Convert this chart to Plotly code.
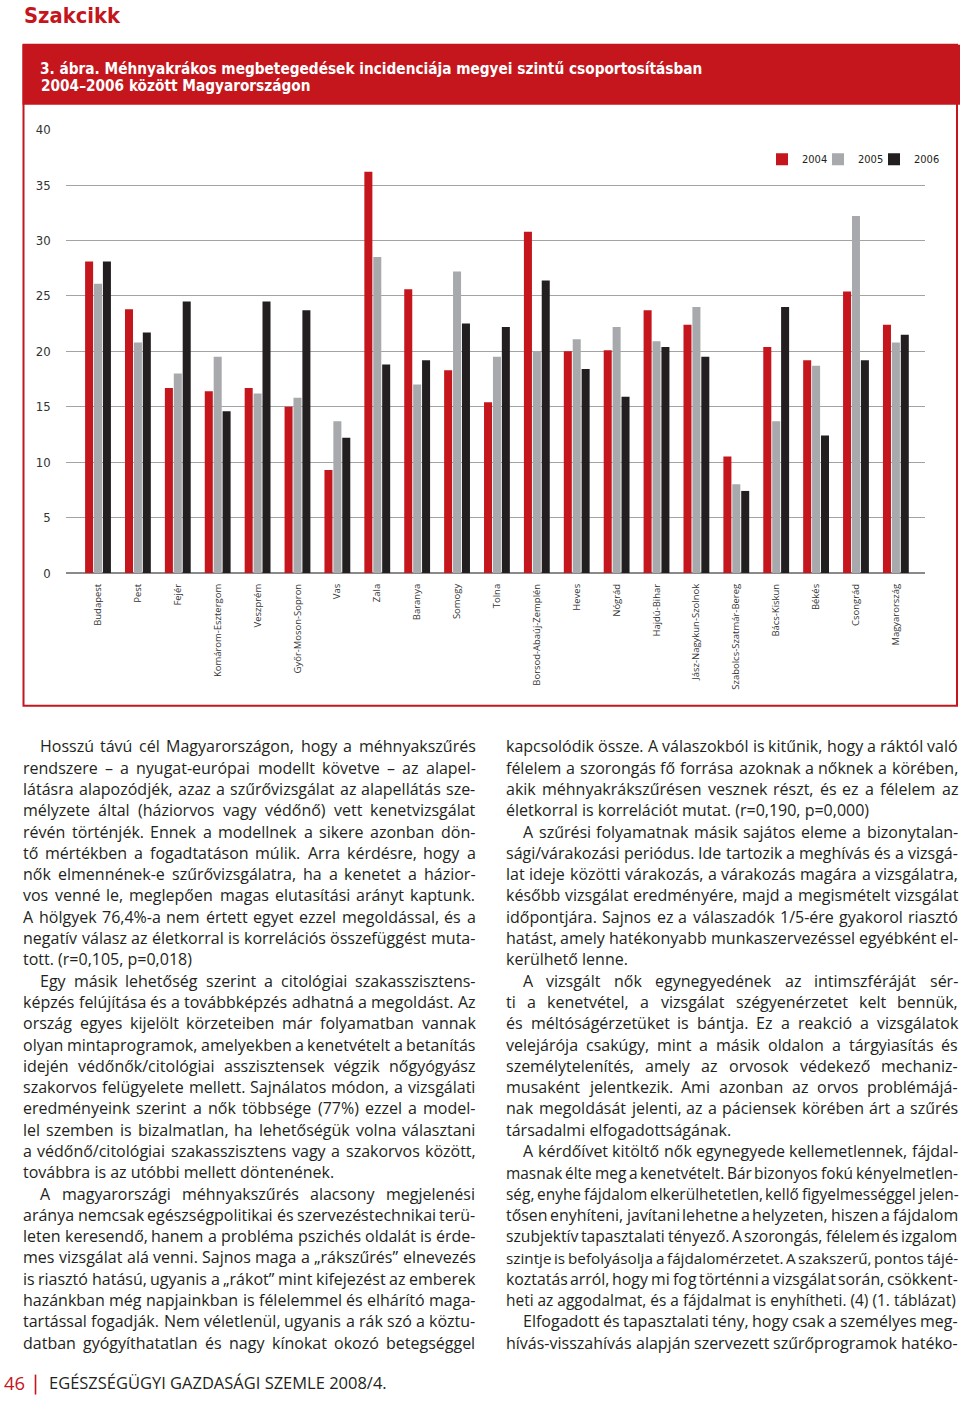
import os
import struct
import plotly.graph_objects as go

W, H = 960, 1405

# ---------------- data ----------------
categories = ["Budapest", "Pest", "Fejér", "Komárom-Esztergom", "Veszprém",
              "Győr-Moson-Sopron", "Vas", "Zala", "Baranya", "Somogy", "Tolna",
              "Borsod-Abaúj-Zemplén", "Heves", "Nógrád", "Hajdú-Bihar",
              "Jász-Nagykun-Szolnok", "Szabolcs-Szatmár-Bereg", "Bács-Kiskun",
              "Békés", "Csongrád", "Magyarország"]
v2004 = [28.1, 23.8, 16.7, 16.4, 16.7, 15.0, 9.3, 36.2, 25.6, 18.3, 15.4,
         30.8, 20.0, 20.1, 23.7, 22.4, 10.5, 20.4, 19.2, 25.4, 22.4]
v2005 = [26.1, 20.8, 18.0, 19.5, 16.2, 15.8, 13.7, 28.5, 17.0, 27.2, 19.5,
         20.0, 21.1, 22.2, 20.9, 24.0, 8.0, 13.7, 18.7, 32.2, 20.8]
v2006 = [28.1, 21.7, 24.5, 14.6, 24.5, 23.7, 12.2, 18.8, 19.2, 22.5, 22.2,
         26.4, 18.4, 15.9, 20.4, 19.5, 7.4, 24.0, 12.4, 19.2, 21.5]
years = ["2004", "2005", "2006"]
y_ticks = [0, 5, 10, 15, 20, 25, 30, 35, 40]

page_head = "Szakcikk"
fig_title = ["3. ábra. Méhnyakrákos megbetegedések incidenciája megyei szintű csoportosításban",
             "2004–2006 között Magyarországon"]

left_lines = [
    "Hosszú távú cél Magyarországon, hogy a méhnyakszűrés",
    "rendszere – a nyugat-európai modellt követve – az alapel-",
    "látásra alapozódjék, azaz a szűrővizsgálat az alapellátás sze-",
    "mélyzete által (háziorvos vagy védőnő) vett kenetvizsgálat",
    "révén történjék. Ennek a modellnek a sikere azonban dön-",
    "tő mértékben a fogadtatáson múlik. Arra kérdésre, hogy a",
    "nők elmennének-e szűrővizsgálatra, ha a kenetet a házior-",
    "vos venné le, meglepően magas elutasítási arányt kaptunk.",
    "A hölgyek 76,4%-a nem értett egyet ezzel megoldással, és a",
    "negatív válasz az életkorral is korrelációs összefüggést muta-",
    "tott. (r=0,105, p=0,018)",
    "Egy másik lehetőség szerint a citológiai szakasszisztens-",
    "képzés felújítása és a továbbképzés adhatná a megoldást. Az",
    "ország egyes kijelölt körzeteiben már folyamatban vannak",
    "olyan mintaprogramok, amelyekben a kenetvételt a betanítás",
    "idején védőnők/citológiai asszisztensek végzik nőgyógyász",
    "szakorvos felügyelete mellett. Sajnálatos módon, a vizsgálati",
    "eredményeink szerint a nők többsége (77%) ezzel a model-",
    "lel szemben is bizalmatlan, ha lehetőségük volna választani",
    "a védőnő/citológiai szakasszisztens vagy a szakorvos között,",
    "továbbra is az utóbbi mellett döntenének.",
    "A magyarországi méhnyakszűrés alacsony megjelenési",
    "aránya nemcsak egészségpolitikai és szervezéstechnikai terü-",
    "leten keresendő, hanem a probléma pszichés oldalát is érde-",
    "mes vizsgálat alá venni. Sajnos maga a „rákszűrés” elnevezés",
    "is riasztó hatású, ugyanis a „rákot” mint kifejezést az emberek",
    "hazánkban még napjainkban is félelemmel és elhárító maga-",
    "tartással fogadják. Nem véletlenül, ugyanis a rák szó a köztu-",
    "datban gyógyíthatatlan és nagy kínokat okozó betegséggel",
]
left_indent = [0, 11, 21]

right_lines = [
    "kapcsolódik össze. A válaszokból is kitűnik, hogy a ráktól való",
    "félelem a szorongás fő forrása azoknak a nőknek a körében,",
    "akik méhnyakrákszűrésen vesznek részt, és ez a félelem az",
    "életkorral is korrelációt mutat. (r=0,190, p=0,000)",
    "A szűrési folyamatnak másik sajátos eleme a bizonytalan-",
    "sági/várakozási periódus. Ide tartozik a meghívás és a vizsgá-",
    "lat ideje közötti várakozás, a várakozás magára a vizsgálatra,",
    "később vizsgálat eredményére, majd a megismételt vizsgálat",
    "időpontjára. Sajnos ez a válaszadók 1/5-ére gyakorol riasztó",
    "hatást, amely hatékonyabb munkaszervezéssel egyébként el-",
    "kerülhető lenne.",
    "A vizsgált nők egynegyedének az intimszféráját sér-",
    "ti a kenetvétel, a vizsgálat szégyenérzetet kelt bennük,",
    "és méltóságérzetüket is bántja. Ez a reakció a vizsgálatok",
    "velejárója csakúgy, mint a másik oldalon a tárgyiasítás és",
    "személytelenítés, amely az orvosok védekező mechaniz-",
    "musaként jelentkezik. Ami azonban az orvos problémájá-",
    "nak megoldását jelenti, az a páciensek körében árt a szűrés",
    "társadalmi elfogadottságának.",
    "A kérdőívet kitöltő nők egynegyede kellemetlennek, fájdal-",
    "masnak élte meg a kenetvételt. Bár bizonyos fokú kényelmetlen-",
    "ség, enyhe fájdalom elkerülhetetlen, kellő figyelmességgel jelen-",
    "tősen enyhíteni, javítani lehetne a helyzeten, hiszen a fájdalom",
    "szubjektív tapasztalati tényező. A szorongás, félelem és izgalom",
    "szintje is befolyásolja a fájdalomérzetet. A szakszerű, pontos tájé-",
    "koztatás arról, hogy mi fog történni a vizsgálat során, csökkent-",
    "heti az aggodalmat, és a fájdalmat is enyhítheti. (4) (1. táblázat)",
    "Elfogadott és tapasztalati tény, hogy csak a személyes meg-",
    "hívás-visszahívás alapján szervezett szűrőprogramok hatéko-",
]
right_indent = [4, 11, 19, 27]

footer_page = "46"
footer_text = "EGÉSZSÉGÜGYI GAZDASÁGI SZEMLE 2008/4."

# ---------------- font metrics (for text layout only) ----------------
def _font_index():
    idx = {}
    for root in ["/usr/share/fonts", "/usr/local/share/fonts",
                 os.path.expanduser("~/.fonts"), os.path.expanduser("~/.local/share/fonts")]:
        if os.path.isdir(root):
            for dp, dn, fn in os.walk(root):
                for f in fn:
                    idx.setdefault(f.lower(), os.path.join(dp, f))
    return idx


FONT_FILES = _font_index()


class Metrics:
    def __init__(self, path):
        data = open(path, "rb").read()
        off0 = struct.unpack(">I", data[12:16])[0] if data[:4] == b"ttcf" else 0
        num = struct.unpack(">H", data[off0 + 4:off0 + 6])[0]
        tabs = {}
        for i in range(num):
            r = off0 + 12 + 16 * i
            tag = data[r:r + 4].decode("latin1")
            o = struct.unpack(">I", data[r + 8:r + 12])[0]
            tabs[tag] = o
        h = tabs["head"]
        self.upem = struct.unpack(">H", data[h + 18:h + 20])[0]
        hh = tabs["hhea"]
        asc, desc = struct.unpack(">hh", data[hh + 4:hh + 8])
        self.center = (asc + desc) / 2.0 / self.upem
        nhm = struct.unpack(">H", data[hh + 34:hh + 36])[0]
        hm = tabs["hmtx"]
        self.adv = [struct.unpack(">H", data[hm + 4 * i:hm + 4 * i + 2])[0] for i in range(nhm)]
        cm = tabs["cmap"]
        n = struct.unpack(">H", data[cm + 2:cm + 4])[0]
        sub = None
        for want in (True, False):
            for i in range(n):
                pid, eid, o = struct.unpack(">HHI", data[cm + 4 + 8 * i:cm + 12 + 8 * i])
                fmt = struct.unpack(">H", data[cm + o:cm + o + 2])[0]
                if fmt == 4 and (not want or (pid == 3 and eid == 1)):
                    sub = cm + o
                    break
            if sub is not None:
                break
        segx2 = struct.unpack(">H", data[sub + 6:sub + 8])[0]
        seg = segx2 // 2
        self.ends = struct.unpack(">%dH" % seg, data[sub + 14:sub + 14 + segx2])
        self.starts = struct.unpack(">%dH" % seg, data[sub + 16 + segx2:sub + 16 + 2 * segx2])
        self.deltas = struct.unpack(">%dh" % seg, data[sub + 16 + 2 * segx2:sub + 16 + 3 * segx2])
        self.rpos = sub + 16 + 3 * segx2
        self.roffs = struct.unpack(">%dH" % seg, data[self.rpos:self.rpos + segx2])
        self.data = data
        self.cache = {}

    def gid(self, c):
        for k in range(len(self.ends)):
            if self.ends[k] >= c:
                if self.starts[k] > c:
                    return 0
                if self.roffs[k] == 0:
                    return (c + self.deltas[k]) & 0xFFFF
                addr = self.rpos + 2 * k + self.roffs[k] + 2 * (c - self.starts[k])
                g = struct.unpack(">H", self.data[addr:addr + 2])[0]
                return (g + self.deltas[k]) & 0xFFFF if g else 0
        return 0

    def char(self, ch):
        if ch not in self.cache:
            g = self.gid(ord(ch))
            a = self.adv[g] if g < len(self.adv) else self.adv[-1]
            self.cache[ch] = a / self.upem
        return self.cache[ch]

    def width(self, s):
        return sum(self.char(c) for c in s)


class Approx:
    center = 0.38

    def __init__(self, k=1.0):
        self.k = k

    def width(self, s):
        w = 0
        for c in s:
            if c == " ":
                w += 0.26
            elif c in "iljtf.,;:!|'()-/ír":
                w += 0.3
            elif c.isupper() or c in "mwMW%":
                w += 0.7
            else:
                w += 0.55
        return w * self.k


def pick(cands, default_family, approx_k=1.0):
    for fam, fname in cands:
        p = FONT_FILES.get(fname)
        if p:
            try:
                return fam, Metrics(p)
            except Exception:
                pass
    return default_family, Approx(approx_k)


BODY_FAM, BODY_M = pick([("Open Sans", "opensans-regular.ttf"),
                         ("Open Sans", "opensans[wdth,wght].ttf"),
                         ("Open Sans", "opensans-variablefont_wdth,wght.ttf"),
                         ("Lato", "lato-regular.ttf"),
                         ("Noto Sans", "notosans-regular.ttf"),
                         ("DejaVu Sans", "dejavusans.ttf")], "Open Sans")
BOLD_FAM, BOLD_M = pick([("Liberation Sans Narrow", "liberationsansnarrow-bold.ttf"),
                         ("DejaVu Sans Condensed", "dejavusanscondensed-bold.ttf"),
                         ("Roboto Condensed", "robotocondensed-bold.ttf"),
                         ("Roboto", "roboto-bold.ttf"),
                         ("DejaVu Sans", "dejavusans-bold.ttf")], "DejaVu Sans", 1.15)
COND_FAM, COND_M = pick([("Liberation Sans Narrow", "liberationsansnarrow-regular.ttf"),
                         ("DejaVu Sans Condensed", "dejavusanscondensed.ttf"),
                         ("Roboto Condensed", "robotocondensed-regular.ttf"),
                         ("Roboto", "roboto-regular.ttf"),
                         ("DejaVu Sans", "dejavusans.ttf")], "DejaVu Sans", 1.1)


def fit(metrics, text, target, lo, hi):
    return max(lo, min(hi, target / metrics.width(text)))


# ---------------- styles ----------------
RED = "#c4161c"
GRAY = "#a7a9ac"
BLACK = "#231f20"
TXT = "#231f20"

# measured vertical mapping of the captured page (offset / scale)
Y_OFF, Y_SCALE = 7.1, 0.991


def px(x):
    return x / W


def py(y):
    return 1 - ((y - Y_OFF) / Y_SCALE) / H


fig = go.Figure()
for name, vals, col, lw in zip(years, [v2004, v2005, v2006], [RED, GRAY, BLACK], [11, 11, 30]):
    fig.add_trace(go.Bar(x=categories, y=vals, name=name, marker_color=col,
                         marker_line_width=0, legendwidth=lw))

tick_size = 13
leg_size = 11
xlab_size = fit(BODY_M, "Borsod-Abaúj-Zemplén", 102, 9, 13)

fig.update_layout(
    width=W, height=H,
    margin=dict(l=0, r=0, t=0, b=0),
    paper_bgcolor="white", plot_bgcolor="white",
    barmode="group", bargap=0.33, bargroupgap=0.1,
    showlegend=True,
    legend=dict(orientation="h", x=px(762), xanchor="left", y=py(159.5),
                yanchor="middle", font=dict(family=COND_FAM, size=leg_size, color=TXT),
                bgcolor="rgba(0,0,0,0)", borderwidth=0, itemwidth=30,
                traceorder="normal"),
    xaxis=dict(domain=[px(65.7), px(925)], range=[-0.81, 20.73],
               tickangle=-90, tickfont=dict(family=BODY_FAM, size=xlab_size, color="#333333"),
               showgrid=False, showline=False, zeroline=False, ticks="",
               ticklabelstandoff=8, fixedrange=True),
    yaxis=dict(domain=[py(574), py(130)], range=[0, 40],
               tickvals=y_ticks, ticktext=[str(t) for t in y_ticks],
               tickfont=dict(family=COND_FAM, size=tick_size, color="#333333"),
               showgrid=True, gridcolor="#a3a3a3", gridwidth=1.3,
               zeroline=True, zerolinecolor="#8a8a8a", zerolinewidth=1.6,
               showline=False, ticks="", ticklabelstandoff=14, fixedrange=True),
)

shapes = [
    dict(type="rect", xref="paper", yref="paper", x0=px(23.5), x1=px(957),
         y0=py(707), y1=py(45), line=dict(color=RED, width=2), fillcolor="rgba(0,0,0,0)"),
    dict(type="rect", xref="paper", yref="paper", x0=px(22.5), x1=px(960),
         y0=py(105), y1=py(45), line=dict(width=0), fillcolor=RED),
    dict(type="line", xref="paper", yref="paper", x0=px(35.5), x1=px(35.5),
         y0=py(1397), y1=py(1377), line=dict(color=RED, width=1.6)),
]
fig.update_layout(shapes=shapes)

ann = []


def add_text(t, x, baseline, fam, m, size, color, bold=False):
    ann.append(dict(text=("<b>%s</b>" % t) if bold else t, x=px(x),
                    y=py(baseline - m.center * size), xref="paper", yref="paper",
                    xanchor="left", yanchor="middle", showarrow=False,
                    borderpad=0, borderwidth=0,
                    font=dict(family=fam, size=size, color=color)))


head_size = fit(BOLD_M, page_head, 96, 14, 25)
add_text(page_head, 23.5, 22.7, BOLD_FAM, BOLD_M, head_size, RED, bold=True)
title_size = fit(BOLD_M, fig_title[0], 663, 12, 20)
add_text(fig_title[0], 39.5, 74, BOLD_FAM, BOLD_M, title_size, "white", bold=True)
add_text(fig_title[1], 41, 91.7, BOLD_FAM, BOLD_M, title_size, "white", bold=True)

# body text, justified word by word
S = 16.0 if BODY_FAM == "Open Sans" else 16.8
LH = 21.33
MIN_GAP = 0.17


def column(lines, indents, x_left, x_right):
    for i, t in enumerate(lines):
        start = x_left + (17 if i in indents else 0)
        base = 754 + i * LH
        is_last = (i + 1) in indents
        words = t.split(" ")
        avail = x_right - start
        if is_last or len(words) < 2:
            size = min(S, (avail - 2) / BODY_M.width(t))
            add_text(t, start, base, BODY_FAM, BODY_M, size, TXT)
            continue
        size = S
        ws = [BODY_M.width(w) for w in words]
        gap = (avail - sum(ws) * size) / (len(words) - 1)
        if gap < MIN_GAP * size:
            size = avail / (sum(ws) + MIN_GAP * (len(words) - 1))
            gap = (avail - sum(ws) * size) / (len(words) - 1)
        x = start
        for w, wd in zip(words, ws):
            add_text(w, x, base, BODY_FAM, BODY_M, size, TXT)
            x += wd * size + gap


column(left_lines, left_indent, 23, 475.5)
column(right_lines, right_indent, 506, 958)

# footer
pg_size = fit(BODY_M, footer_page, 21, 16, 24)
add_text(footer_page, 4, 1392, BODY_FAM, BODY_M, pg_size, RED)
ft_size = fit(BODY_M, footer_text, 338, 13, 18)
add_text(footer_text, 49, 1391.5, BODY_FAM, BODY_M, ft_size, TXT)
fig.update_layout(annotations=ann)

fig.write_html("out.html", config={"displayModeBar": False},
               post_script="document.body.style.margin='0px';")
